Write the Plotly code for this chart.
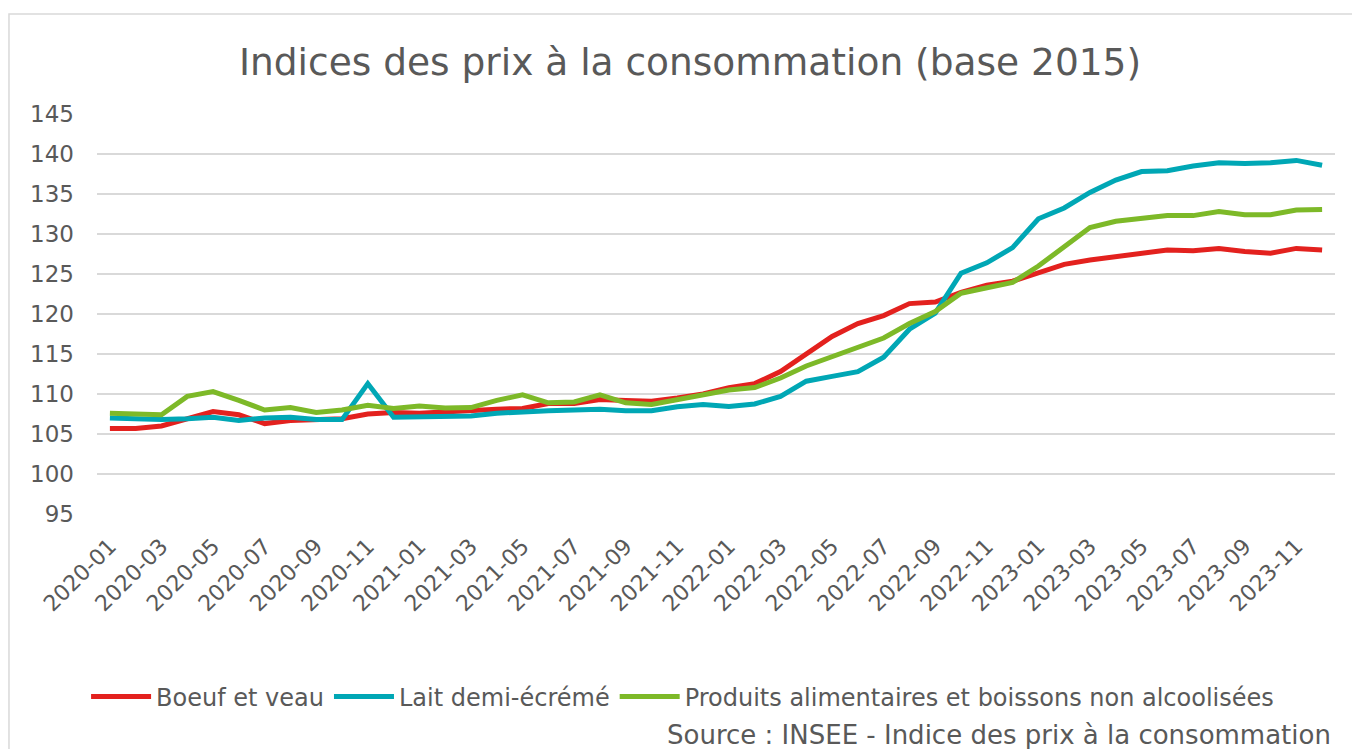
import plotly.graph_objects as go

months = [f"{y}-{m:02d}" for y in (2020, 2021, 2022, 2023) for m in range(1, 13)]
tick_labels = months[::2]

boeuf = [105.7, 105.7, 106.0, 106.9, 107.8, 107.4, 106.3, 106.7, 106.8, 106.9, 107.5, 107.7,
         107.6, 107.8, 108.0, 108.1, 108.2, 108.8, 108.8, 109.3, 109.2, 109.1, 109.5, 110.0,
         110.8, 111.3, 112.8, 115.0, 117.2, 118.8, 119.8, 121.3, 121.5, 122.7, 123.6, 124.1,
         125.2, 126.2, 126.75, 127.2, 127.7, 128.0, 127.9, 128.2, 127.8, 127.6, 128.2, 128.0]
lait = [107.0, 106.9, 106.8, 106.9, 107.1, 106.7, 107.0, 107.1, 106.8, 106.8, 111.3, 107.1,
        107.1, 107.1, 107.25, 107.6, 107.8, 107.9, 108.0, 108.1, 107.9, 107.9, 108.4, 108.7,
        108.45, 108.75, 109.7, 111.6, 112.2, 112.8, 114.6, 118.1, 120.1, 125.1, 126.4, 128.3,
        131.9, 133.25, 135.2, 136.75, 137.8, 137.9, 138.5, 138.9, 138.8, 138.9, 139.2, 138.6]
produits = [107.6, 107.5, 107.4, 109.7, 110.3, 109.2, 108.0, 108.3, 107.7, 108.0, 108.6, 108.2,
            108.5, 108.25, 108.3, 109.2, 109.9, 108.9, 109.0, 109.9, 108.9, 108.7, 109.25, 109.9,
            110.5, 110.8, 112.0, 113.5, 114.7, 115.75, 117.0, 118.8, 120.3, 122.6, 123.35, 123.95,
            126.0, 128.4, 130.8, 131.6, 132.0, 132.3, 132.3, 132.8, 132.4, 132.4, 133.0, 133.05]

series_names = ["Boeuf et veau", "Lait demi-écrémé",
                "Produits alimentaires et boissons non alcoolisées"]
series_values = [boeuf, lait, produits]
series_colors = ["#E3211E", "#00A7B5", "#7DB928"]

y_ticks = [95, 100, 105, 110, 115, 120, 125, 130, 135, 140, 145]

FONT = "Verdana, DejaVu Sans, sans-serif"
GRAY = "#595959"

fig = go.Figure()
for name, vals, col in zip(series_names, series_values, series_colors):
    fig.add_trace(go.Scatter(x=months, y=vals, mode="lines", name=name,
                             line=dict(color=col, width=5, shape="linear"),
                             hoverinfo="x+y+name"))

fig.update_layout(
    width=1360, height=749,
    paper_bgcolor="white", plot_bgcolor="white",
    margin=dict(l=89, r=33, t=106, b=243, pad=0),
    font=dict(family=FONT, color=GRAY, size=22),
    title=dict(text="Indices des prix à la consommation (base 2015)",
               x=0.5015, xanchor="center", y=0.928, yanchor="middle",
               font=dict(family=FONT, size=37.5, color=GRAY)),
    xaxis=dict(type="category", range=[-0.5, 47.5], tickmode="array",
               tickvals=tick_labels, ticktext=tick_labels, tickangle=-45,
               showgrid=False, showline=False, zeroline=False, ticks="",
               ticklabelstandoff=14,
               tickfont=dict(family=FONT, size=22, color=GRAY)),
    yaxis=dict(range=[95, 145], tickmode="array", tickvals=y_ticks,
               showgrid=True, gridcolor="#D9D9D9", gridwidth=1.5,
               zeroline=False, showline=False, ticks="",
               ticklabelstandoff=22,
               tickfont=dict(family=FONT, size=23, color=GRAY)),
    legend=dict(orientation="h", x=0.473, xanchor="center", y=-0.4575, yanchor="middle",
                font=dict(family=FONT, size=24, color=GRAY), itemwidth=60,
                traceorder="normal", bgcolor="rgba(0,0,0,0)"),
    showlegend=True,
)

fig.add_shape(type="rect", xref="paper", yref="paper",
              x0=-0.0711, x1=1.05, y0=-0.7, y1=1.25,
              line=dict(color="#D9D9D9", width=1.5), fillcolor="rgba(0,0,0,0)", layer="below")

fig.add_annotation(text="Source : INSEE - Indice des prix à la consommation",
                   xref="paper", yref="paper", x=0.4588, xanchor="left",
                   y=-0.553, yanchor="middle", showarrow=False,
                   font=dict(family=FONT, size=26, color=GRAY))

fig.write_html("out.html")
